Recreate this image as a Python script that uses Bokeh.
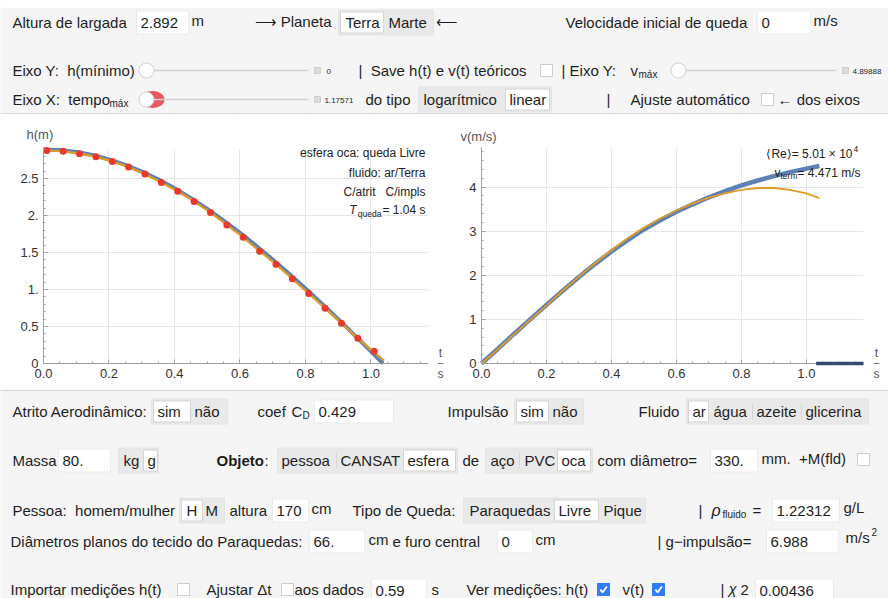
from bokeh.plotting import figure
from bokeh.models import Range1d, FixedTicker, Label, ColumnDataSource
from bokeh.layouts import column, row
from bokeh.embed import file_html
from bokeh.resources import INLINE
from bokeh.core.properties import value

# ---------------- data ----------------
T_MAX = 1.17571
H_MAX = 2.892
V_MAX = 4.89888

# measured heights (red points)
t_meas = [0.01, 0.06, 0.11, 0.16, 0.21, 0.26, 0.31, 0.36, 0.41, 0.46, 0.51,
          0.56, 0.61, 0.66, 0.71, 0.76, 0.81, 0.86, 0.91, 0.96, 1.01]
h_meas = [2.88, 2.868, 2.836, 2.795, 2.73, 2.655, 2.56, 2.445, 2.327, 2.19, 2.04,
          1.873, 1.705, 1.518, 1.34, 1.145, 0.945, 0.745, 0.545, 0.34, 0.164]

# theoretical h(t) (blue)
t_h_theory = [0.0, 0.05, 0.1, 0.15, 0.2, 0.25, 0.3, 0.35, 0.4, 0.45, 0.5,
              0.55, 0.6, 0.65, 0.7, 0.75, 0.8, 0.85, 0.9, 0.95, 1.0, 1.037]
h_theory = [2.892, 2.884, 2.859, 2.817, 2.759, 2.684, 2.594, 2.489, 2.369, 2.235, 2.089,
            1.932, 1.765, 1.589, 1.404, 1.212, 1.013, 0.809, 0.599, 0.384, 0.165, 0.0]

# fitted h(t) (orange)
t_h_fit = [0.0, 0.05, 0.1, 0.15, 0.2, 0.25, 0.3, 0.35, 0.4, 0.45, 0.5,
           0.55, 0.6, 0.65, 0.7, 0.75, 0.8, 0.85, 0.9, 0.95, 1.0, 1.04]
h_fit = [2.882, 2.872, 2.844, 2.803, 2.745, 2.672, 2.582, 2.47, 2.352, 2.22, 2.072,
         1.907, 1.738, 1.555, 1.378, 1.185, 0.985, 0.785, 0.585, 0.38, 0.185, 0.04]

# velocity curves
t_v = [0.0, 0.05, 0.1, 0.15, 0.2, 0.25, 0.3, 0.35, 0.4, 0.45, 0.5,
       0.55, 0.6, 0.65, 0.7, 0.75, 0.8, 0.85, 0.9, 0.95, 1.0, 1.04]
v_theory = [0.0, 0.33, 0.67, 1.0, 1.33, 1.65, 1.96, 2.26, 2.54, 2.8, 3.04,
            3.25, 3.44, 3.61, 3.77, 3.91, 4.04, 4.15, 4.25, 4.34, 4.42, 4.48]
v_fit = [0.0, 0.32, 0.66, 0.99, 1.32, 1.65, 1.97, 2.28, 2.57, 2.84, 3.08,
         3.29, 3.47, 3.63, 3.76, 3.86, 3.94, 3.98, 3.98, 3.94, 3.86, 3.75]
t_ground = [1.03, 1.17571]
v_ground = [0.0, 0.0]

x_ticks = [0.0, 0.2, 0.4, 0.6, 0.8, 1.0]
x_tick_labels = ["0.0", "0.2", "0.4", "0.6", "0.8", "1.0"]
x_minor = [0.05, 0.1, 0.15, 0.25, 0.3, 0.35, 0.45, 0.5, 0.55, 0.65, 0.7, 0.75,
           0.85, 0.9, 0.95, 1.05, 1.1, 1.15]
h_ticks = [0.0, 0.5, 1.0, 1.5, 2.0, 2.5]
h_tick_labels = ["0", "0.5", "1.", "1.5", "2.", "2.5"]
h_minor = [0.1, 0.2, 0.3, 0.4, 0.6, 0.7, 0.8, 0.9, 1.1, 1.2, 1.3, 1.4, 1.6, 1.7,
           1.8, 1.9, 2.1, 2.2, 2.3, 2.4, 2.6, 2.7, 2.8]
v_ticks = [0.0, 1.0, 2.0, 3.0, 4.0]
v_tick_labels = ["0", "1", "2", "3", "4"]
v_minor = [0.2, 0.4, 0.6, 0.8, 1.2, 1.4, 1.6, 1.8, 2.2, 2.4, 2.6, 2.8, 3.2, 3.4,
           3.6, 3.8, 4.2, 4.4, 4.6, 4.8]

# ---------------- styles ----------------
FONT = "Liberation Sans"
PANEL_BG = "#f5f5f5"
INK = "#1e1e1e"
BLUE = "#5e81b5"
ORANGE = "#e19c24"
RED = "#e8392d"
AXIS = "#a0a0a0"
GRID = "#e6e6e6"
SP = "\u00a0"


class Panel:
    def __init__(self, y0, h):
        p = figure(width=888, height=h, x_range=Range1d(0, 888), y_range=Range1d(y0 + h, y0),
                   output_backend="svg", toolbar_location=None,
                   x_axis_location=None, y_axis_location=None,
                   min_border=0, min_border_left=0, min_border_right=0,
                   min_border_top=0, min_border_bottom=0,
                   background_fill_color=PANEL_BG, border_fill_color=PANEL_BG,
                   outline_line_color=None)
        p.grid.visible = False
        self.p = p
        self.T = {k: [] for k in ("x", "y", "text", "size", "color", "align", "style")}
        self.Q = {k: [] for k in ("left", "right", "top", "bottom", "fill", "line")}
        self.L = {k: [] for k in ("xs", "ys", "color", "width")}
        self.L2 = {k: [] for k in ("xs", "ys", "color", "width")}
        self.D = {k: [] for k in ("x", "y", "size", "fill", "line")}
        self.E = {k: [] for k in ("x", "y", "w", "h", "fill")}

    def text(self, x, y, s, size=15, color=INK, align="left", style="normal"):
        for k, v in zip(("x", "y", "text", "size", "color", "align", "style"),
                        (x, y, s, f"{size}px", color, align, style)):
            self.T[k].append(v)

    def box(self, x0, x1, y0, y1, fill="white", line=None):
        for k, v in zip(("left", "right", "top", "bottom", "fill", "line"),
                        (x0, x1, y0, y1, fill, line or fill)):
            self.Q[k].append(v)

    def seg(self, xs, ys, color, width, over=False):
        L = self.L2 if over else self.L
        L["xs"].append(xs); L["ys"].append(ys); L["color"].append(color); L["width"].append(width)

    def dot(self, x, y, size, fill, line):
        for k, v in zip(("x", "y", "size", "fill", "line"), (x, y, size, fill, line)):
            self.D[k].append(v)

    # widgets
    def inp(self, x0, x1, yc, s, h=23):
        self.box(x0, x1, yc - h / 2, yc + h / 2, "white", "#ebebeb")
        self.text(x0 + 4, yc, s)

    def group(self, x0, x1, yc, items, h=25):
        self.box(x0, x1, yc - h / 2, yc + h / 2, "#e9e9e9", "#e4e4e4")
        for lab, tx, s0, s1 in items:
            if s0 is not None:
                self.box(s0, s1, yc - h / 2 + 2, yc + h / 2 - 2, "white", "#d4d4d4")
            self.text(tx, yc, lab)

    def sep(self, x, yc):
        self.seg([x, x], [yc - 8, yc + 8], "#d6d6d6", 1)

    def chk(self, x0, yc, checked=False):
        if checked:
            self.box(x0, x0 + 12, yc - 6, yc + 6, "#2f7ef6", "#2f7ef6")
            self.seg([x0 + 2.8, x0 + 5.2, x0 + 9.4], [yc + 0.2, yc + 2.8, yc - 3], "white", 1.8, over=True)
        else:
            self.box(x0, x0 + 12, yc - 6, yc + 6, "white", "#cdcdcd")

    def slider(self, x0, x1, yc, red=False):
        if red:
            self.E["x"].append(x0 + 6); self.E["y"].append(yc)
            self.E["w"].append(24); self.E["h"].append(17); self.E["fill"].append("#e8474c")
        self.seg([x0, x1], [yc, yc], "#d2d2d2", 1.5)
        self.dot(x0, yc, 15, "white", "#cfcfcf")
        self.box(x1 + 6, x1 + 12, yc - 3, yc + 3, "#dadada", "#cfcfcf")

    def render(self):
        p = self.p
        p.quad(left="left", right="right", top="top", bottom="bottom", fill_color="fill",
               line_color="line", line_width=1, source=ColumnDataSource(self.Q))
        if self.E["x"]:
            p.ellipse(x="x", y="y", width="w", height="h", fill_color="fill", line_color=None,
                      fill_alpha=0.9, source=ColumnDataSource(self.E))
        if self.L["xs"]:
            p.multi_line(xs="xs", ys="ys", line_color="color", line_width="width",
                         source=ColumnDataSource(self.L))
        if self.D["x"]:
            p.scatter(x="x", y="y", size="size", fill_color="fill", line_color="line",
                      marker="circle", source=ColumnDataSource(self.D))
        if self.L2["xs"]:
            p.multi_line(xs="xs", ys="ys", line_color="color", line_width="width",
                         source=ColumnDataSource(self.L2))
        p.text(x="x", y="y", text="text", text_font_size="size", text_color="color",
               text_align="align", text_font_style="style", text_baseline="middle",
               text_font=value(FONT), source=ColumnDataSource(self.T))
        return p


# ---------------- top panel ----------------
top = Panel(0, 116)
top.box(0, 888, 0, 7, "white")
top.box(0, 888, 113, 116, "white", "white")
top.seg([0, 888], [113, 113], "#d9d9d9", 1.2)

y1 = 22
top.text(12, y1, "Altura de largada")
top.inp(136, 188, y1, "2.892")
top.text(191, y1 - 2, "m")
top.text(254, y1 - 1, "⟶ Planeta")
top.group(338, 433, y1, [("Terra", 345, 340, 383), ("Marte", 388, None, None)])
top.text(435, y1 - 1, "⟵")
top.text(565, y1, "Velocidade inicial de queda")
top.inp(757, 810, y1, "0")
top.text(813, y1 - 2, "m/s")

y2 = 70
top.text(12, y2, "Eixo Y:" + SP + SP + "h(mínimo)")
top.slider(146, 308, y2)
top.text(326, y2 + 1, "0", size=8)
top.text(358, y2, "|" + SP + SP + "Save h(t) e v(t) teóricos")
top.chk(540, y2)
top.text(561, y2, "| Eixo Y:")
top.text(630, y2, "v")
top.text(638, y2 + 4, "máx", size=10)
top.slider(678, 836, y2)
top.text(852, y2 + 1, "4.89888", size=8)

y3 = 99
top.text(12, y3, "Eixo X:" + SP + SP + "tempo")
top.text(109, y3 + 4, "máx", size=10)
top.slider(146, 308, y3, red=True)
top.text(324, y3 + 1, "1.17571", size=8)
top.text(365, y3, "do tipo")
top.group(418, 551, y3, [("logarítmico", 423, None, None), ("linear", 509, 505, 549)])
top.text(606, y3, "|")
top.text(630, y3, "Ajuste automático")
top.chk(761, y3)
top.text(777, y3, "← dos eixos")

# ---------------- bottom panel ----------------
bot = Panel(389, 209)
bot.seg([0, 888], [390, 390], "#d9d9d9", 1.2)

ya = 411
bot.text(12, ya, "Atrito Aerodinâmico:")
bot.group(151, 227, ya, [("sim", 157, 153, 190), ("não", 194, None, None)])
bot.text(257, ya, "coef")
bot.text(291, ya, "C")
bot.text(302, ya + 4, "D", size=10)
bot.inp(314, 393, ya, "0.429")
bot.text(447, ya, "Impulsão")
bot.group(514, 583, ya, [("sim", 520, 516, 548), ("não", 552, None, None)])
bot.text(638, ya, "Fluido")
bot.group(686, 868, ya, [("ar", 692, 688, 708), ("água", 713, None, None),
                         ("azeite", 756, None, None), ("glicerina", 805, None, None)])
bot.sep(752, ya)
bot.sep(801, ya)

yb = 460
bot.text(12, yb, "Massa")
bot.inp(58, 110, yb, "80.")
bot.group(118, 158, yb, [("kg", 123, None, None), ("g", 147, 143, 157)])
bot.text(216, yb, "Objeto", style="bold")
bot.text(264, yb, ":")
bot.group(277, 457, yb, [("pessoa", 281, None, None), ("CANSAT", 340, None, None),
                         ("esfera", 407, 403, 455)])
bot.sep(336, yb)
bot.text(462, yb, "de")
bot.group(485, 592, yb, [("aço", 490, None, None), ("PVC", 524, None, None),
                         ("oca", 561, 557, 590)])
bot.sep(519, yb)
bot.text(597, yb, "com diâmetro=")
bot.inp(710, 757, yb, "330.")
bot.text(761, yb - 2, "mm." + SP + SP + "+M(fld)")
bot.chk(857, yb - 1)

yc = 510
bot.text(12, yc, "Pessoa:" + SP + SP + "homem/mulher")
bot.group(179, 224, yc, [("H", 186, 181, 202), ("M", 205, None, None)])
bot.text(229, yc, "altura")
bot.inp(272, 308, yc, "170")
bot.text(311, yc - 2, "cm")
bot.text(352, yc, "Tipo de Queda:")
bot.group(463, 645, yc, [("Paraquedas", 469, None, None), ("Livre", 558, 554, 598),
                         ("Pique", 603, None, None)])
bot.text(698, yc, "|")
bot.text(711, yc, "ρ", size=16, style="italic")
bot.text(722, yc + 4, "fluido", size=10)
bot.text(752, yc, "=")
bot.inp(772, 839, yc, "1.22312")
bot.text(843, yc - 3, "g/L")

yd = 541
bot.text(10, yd, "Diâmetros planos do tecido do Paraquedas:")
bot.inp(309, 364, yd, "66.")
bot.text(368, yd - 2, "cm")
bot.text(392, yd, "e furo central")
bot.inp(497, 532, yd, "0")
bot.text(535, yd - 2, "cm")
bot.text(657, yd, "| g−impulsão=")
bot.inp(766, 838, yd, "6.988")
bot.text(845, yd - 4, "m/s")
bot.text(871, yd - 10, "2", size=10)

ye = 589
bot.text(10, ye, "Importar medições h(t)")
bot.chk(177, ye)
bot.text(206, ye, "Ajustar Δt")
bot.chk(281, ye)
bot.text(294, ye, "aos dados")
bot.inp(371, 426, ye + 1, "0.59")
bot.text(431, ye, "s")
bot.text(466, ye, "Ver medições: h(t)")
bot.chk(597, ye, checked=True)
bot.text(622, ye, "v(t)")
bot.chk(652, ye, checked=True)
bot.text(720, ye, "|")
bot.text(728, ye - 1, "χ", size=15, style="italic")
bot.text(740, ye, "2")
bot.inp(755, 833, ye + 1, "0.00436")

top_fig = top.render()
bot_fig = bot.render()


# ---------------- plots ----------------
# frame covers the whole figure; axes are pinned at the data origin
def make_plot(width, xr, yr, ymax, yticks, ylabels, yminor):
    p = figure(width=width, height=273, x_range=Range1d(*xr), y_range=Range1d(*yr),
               output_backend="svg", toolbar_location=None,
               min_border=0, min_border_left=0, min_border_right=0,
               min_border_top=0, min_border_bottom=0,
               background_fill_color="white", border_fill_color="white", outline_line_color=None)
    p.xaxis.ticker = FixedTicker(ticks=x_ticks, minor_ticks=x_minor)
    p.yaxis.ticker = FixedTicker(ticks=yticks, minor_ticks=yminor)
    p.xaxis.major_label_overrides = dict(zip(x_ticks, x_tick_labels))
    p.yaxis.major_label_overrides = dict(zip(yticks, ylabels))
    p.xaxis.fixed_location = 0
    p.yaxis.fixed_location = 0
    p.xaxis.bounds = (0, T_MAX)
    p.yaxis.bounds = (0, ymax)
    for ax in (p.xaxis[0], p.yaxis[0]):
        ax.axis_line_color = AXIS
        ax.major_tick_line_color = AXIS
        ax.minor_tick_line_color = AXIS
        ax.major_tick_in = 4
        ax.major_tick_out = 0
        ax.minor_tick_in = 2
        ax.minor_tick_out = 0
        ax.major_label_text_font = FONT
        ax.major_label_text_font_size = "13px"
        ax.major_label_text_color = "#333333"
        ax.major_label_standoff = 5
    p.xgrid.ticker = FixedTicker(ticks=x_ticks[1:])
    p.ygrid.ticker = FixedTicker(ticks=yticks[1:])
    p.grid.grid_line_color = GRID
    # white masks so the grid stays inside the plotted box
    x0, x1 = xr
    y0, y1 = yr
    p.quad(left=[x0, x0, x0, T_MAX], right=[x1, x1, 0, x1],
           bottom=[y0, ymax, y0, y0], top=[0, y1, y1, y1],
           fill_color="white", line_color=None)
    return p


def lab(p, x, y, s, size=12, align="left", color="#222222", style="normal"):
    p.add_layout(Label(x=x, y=y, text=s, text_font=FONT, text_font_size=f"{size}px",
                       text_align=align, text_baseline="middle", text_color=color,
                       text_font_style=style))


# left plot: figure spans page x 0..450, y 116..389; data box x 43..428, y 149..363
LX = lambda px: (px - 43) * T_MAX / 385
LY = lambda py: (363 - py) * H_MAX / 214
p1 = make_plot(450, (LX(0), LX(450)), (LY(389), LY(116)), H_MAX, h_ticks, h_tick_labels, h_minor)
p1.line(t_h_theory, h_theory, line_color=BLUE, line_width=4)
p1.line(t_h_fit, h_fit, line_color=ORANGE, line_width=2.2)
p1.scatter(t_meas, h_meas, size=7, fill_color=RED, line_color=None)

lab(p1, LX(26), LY(134), "h(m)", size=13, color="#555555")
lab(p1, LX(440), LY(352), "t", size=12, align="center", color="#555555")
lab(p1, LX(440), LY(362), "–", size=10, align="center", color="#555555")
lab(p1, LX(440), LY(373), "s", size=12, align="center", color="#555555")
lab(p1, LX(425), LY(152), "esfera oca: queda Livre", align="right")
lab(p1, LX(425), LY(172), "fluido: ar/Terra", align="right")
lab(p1, LX(425), LY(191), "C/atrit" + SP + SP + SP + "C/impls", align="right")
lab(p1, LX(425), LY(209), "= 1.04 s", align="right")
lab(p1, LX(381), LY(213), "queda", size=8.5, align="right")
lab(p1, LX(356), LY(209), "T", align="right", style="italic")

# right plot: figure spans page x 450..888; data box x 481..863, y 147..363
RX = lambda px: (px - 481) * T_MAX / 382
RY = lambda py: (363 - py) * V_MAX / 216
p2 = make_plot(438, (RX(450), RX(888)), (RY(389), RY(116)), V_MAX, v_ticks, v_tick_labels, v_minor)
p2.line(t_v, v_theory, line_color=BLUE, line_width=4.5)
p2.line(t_v, v_fit, line_color=ORANGE, line_width=1.8)
p2.line(t_ground, v_ground, line_color="#34496e", line_width=3.5, level="overlay")

lab(p2, RX(460), RY(136), "v(m/s)", size=13, color="#555555")
lab(p2, RX(876), RY(352), "t", size=12, align="center", color="#555555")
lab(p2, RX(876), RY(362), "–", size=10, align="center", color="#555555")
lab(p2, RX(876), RY(373), "s", size=12, align="center", color="#555555")
lab(p2, RX(852), RY(153), "⟨Re⟩= 5.01 × 10", align="right")
lab(p2, RX(853), RY(148), "4", size=8.5)
lab(p2, RX(860), RY(172), "= 4.471 m/s", align="right")
lab(p2, RX(797), RY(175), "term", size=8.5, align="right")
lab(p2, RX(780), RY(172), "v", align="right")

layout = column(top_fig, row(p1, p2), bot_fig)
open("out.html", "w").write(file_html(layout, INLINE))
